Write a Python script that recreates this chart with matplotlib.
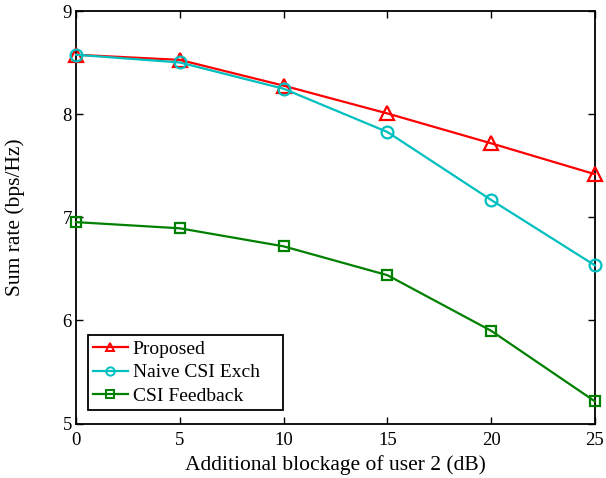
import numpy as np
import matplotlib
matplotlib.use('Agg')
from matplotlib import pyplot as plt

plt.rcParams['font.family'] = ['Liberation Serif', 'DejaVu Serif']

blockage = [0, 5, 10, 15, 20, 25]
proposed = [8.58, 8.53, 8.28, 8.01, 7.72, 7.42]
naive = [8.58, 8.505, 8.25, 7.83, 7.17, 6.535]
feedback = [6.955, 6.895, 6.72, 6.44, 5.90, 5.215]

fig = plt.figure(figsize=(6.06, 4.78), dpi=100)
ax = fig.add_axes([0.1254, 0.114, 0.8564, 0.862])

ax.plot(blockage, proposed, '-^', color='#ff0000', lw=1.6, ms=9.5, mfc='none', mew=1.6,
        label='Proposed', clip_on=False, zorder=3)
ax.plot(blockage, naive, '-o', color='#00bfbf', lw=1.6, ms=8.5, mfc='none', mew=1.6,
        label='Naive CSI Exch', clip_on=False, zorder=3)
ax.plot(blockage, feedback, '-s', color='#008000', lw=1.6, ms=7, mfc='none', mew=1.6,
        label='CSI Feedback', clip_on=False, zorder=3)

ax.set_xlim(0, 25)
ax.set_ylim(5, 9)
ax.set_xticks([0, 5, 10, 15, 20, 25])
ax.set_yticks([5, 6, 7, 8, 9])
ax.tick_params(direction='in', top=True, right=True, length=5, width=1, labelsize=13.5)
ax.tick_params(axis='y', pad=3)
ax.tick_params(axis='x', pad=6)
for s in ax.spines.values():
    s.set_linewidth(1.3)

ax.set_xlabel('Additional blockage of user 2 (dB)', fontsize=15.5)
ax.set_ylabel('Sum rate (bps/Hz)', fontsize=15.5)
ax.xaxis.set_label_coords(0.5, -0.077)
ax.yaxis.set_label_coords(-0.098, 0.5)

leg = ax.legend(loc='lower left', bbox_to_anchor=(0.0231, 0.0328, 0.3757, 0.18), mode='expand',
                borderaxespad=0, fontsize=14, fancybox=False, edgecolor='black', framealpha=1,
                handlelength=1.8, borderpad=0.25, labelspacing=0.31, handletextpad=0.25)
leg.get_frame().set_linewidth(1.3)
for ln in leg.get_lines():
    ln.set_markersize(6)
    ln.set_markeredgewidth(1.4)

fig.savefig('out.png', dpi=100)
